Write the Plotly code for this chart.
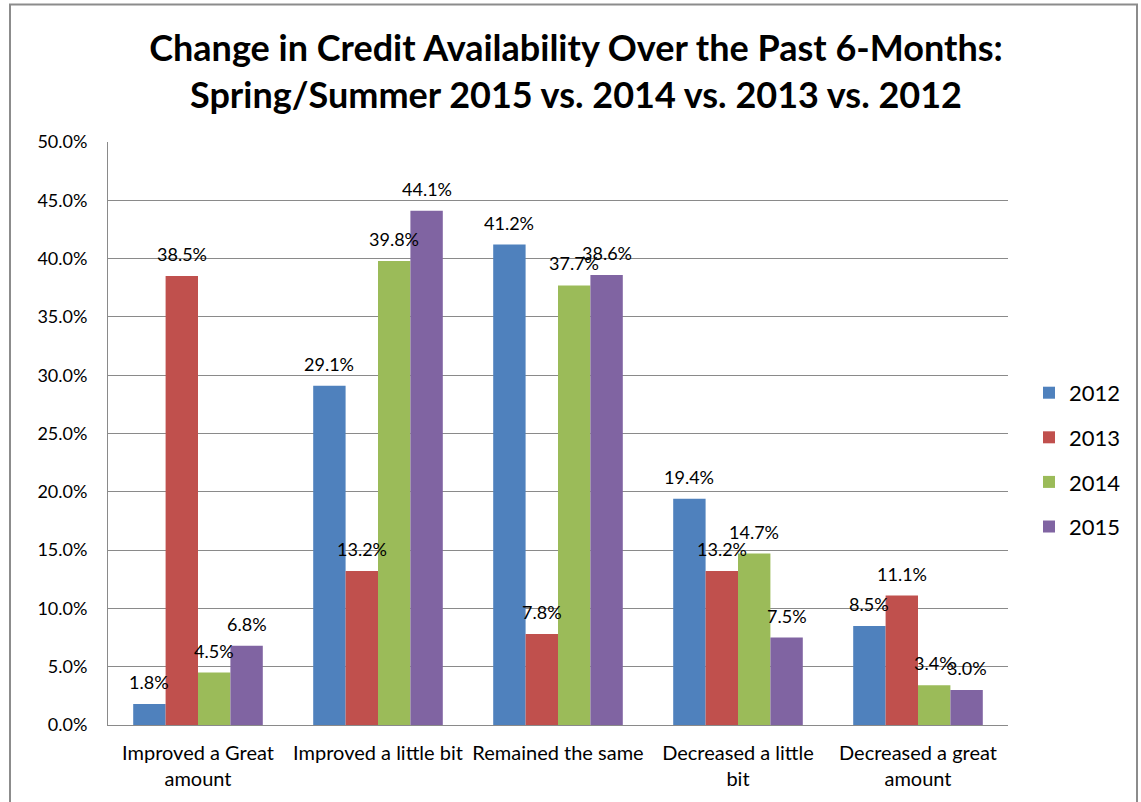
import plotly.graph_objects as go

categories = ["Improved a Great<br>amount", "Improved a little bit", "Remained the same",
              "Decreased a little<br>bit", "Decreased a great<br>amount"]
years = ["2012", "2013", "2014", "2015"]
v2012 = [1.8, 29.1, 41.2, 19.4, 8.5]
v2013 = [38.5, 13.2, 7.8, 13.2, 11.1]
v2014 = [4.5, 39.8, 37.7, 14.7, 3.4]
v2015 = [6.8, 44.1, 38.6, 7.5, 3.0]
series = [v2012, v2013, v2014, v2015]
colors = ["#4F81BD", "#C0504D", "#9BBB59", "#8064A2"]

FONT = "Lato"
BARGAP = 0.28
fig = go.Figure()
annotations = []
n = len(series)
bw = (1 - BARGAP) / n
for k, (name, vals, col) in enumerate(zip(years, series, colors)):
    fig.add_trace(go.Bar(
        x=categories, y=[v / 100 for v in vals], name=name, legendgroup=name,
        marker=dict(color=col, line=dict(width=0)),
        cliponaxis=False,
    ))
    for i, v in enumerate(vals):
        annotations.append(dict(
            x=i + (k - (n - 1) / 2) * bw, y=v / 100, xref="x", yref="y",
            text=f"{v:.1f}%", showarrow=False, yanchor="bottom", xanchor="center",
            yshift=9, font=dict(family=FONT, size=18, color="#000000")))

L, R, T, B = 108, 1008, 142, 727
W, H = 1141, 802
pw, ph = R - L, B - T

fig.update_layout(
    width=W, height=H,
    margin=dict(l=L, r=W - R, t=T, b=H - B),
    paper_bgcolor="white", plot_bgcolor="white",
    barmode="group", bargap=BARGAP, bargroupgap=0,
    font=dict(family=FONT, color="#000000"),
    title=dict(text="<b>Change in Credit Availability Over the Past 6-Months:<br>Spring/Summer 2015 vs. 2014 vs. 2013 vs. 2012</b>",
               x=576 / W, xref="container", xanchor="center", y=(H - 61) / H, yanchor="middle",
               font=dict(family=FONT, size=36, color="#000000")),
    legend=dict(x=(1029 - L) / pw, xanchor="left", y=(B - 461) / ph, yanchor="middle",
                font=dict(family=FONT, size=22), tracegroupgap=13,
                bgcolor="rgba(0,0,0,0)", itemwidth=30),
    showlegend=True,
    annotations=annotations,
    shapes=[dict(type="rect", xref="paper", yref="paper",
                 x0=(10 - L) / pw, x1=(1137 - L) / pw,
                 y0=(B - 810) / ph, y1=(B - 4) / ph,
                 line=dict(color="#8c8c8c", width=2), fillcolor="rgba(0,0,0,0)", layer="below")],
)
fig.update_yaxes(range=[0, 0.5], dtick=0.05, tickformat=".1%",
                 showgrid=True, gridcolor="#8a8a8a", gridwidth=1,
                 showline=True, linecolor="#8a8a8a", linewidth=1,
                 ticks="", ticklabelstandoff=16, tickfont=dict(family=FONT, size=18), zeroline=False)
fig.update_xaxes(showline=True, linecolor="#8a8a8a", linewidth=1, showgrid=False,
                 ticks="", ticklabelstandoff=10, tickfont=dict(family=FONT, size=20))

fig.write_html("out.html", config={"displayModeBar": False},
               post_script="document.body.style.margin='0';document.body.style.overflow='hidden';")
